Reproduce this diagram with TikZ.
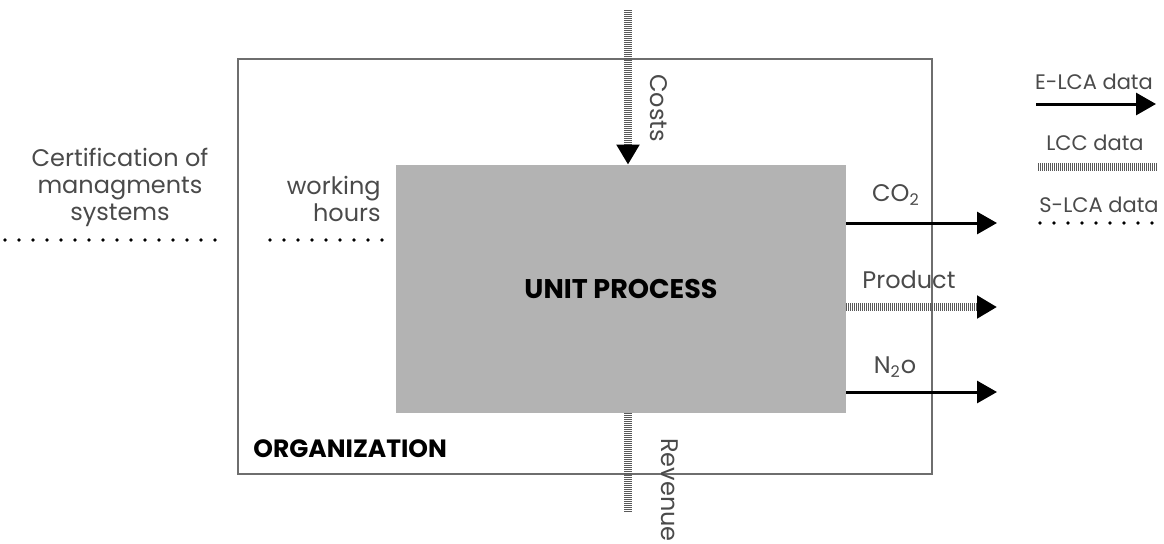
\documentclass[tikz,border=0pt]{standalone}
\usepackage{fontspec}
\setmainfont{Poppins}
\usetikzlibrary{arrows.meta,positioning}
\definecolor{boxgray}{HTML}{B3B3B3}
\definecolor{txtgray}{HTML}{4A4A4A}
\definecolor{framegray}{HTML}{6E6E6E}
\tikzset{
  lbl/.style={text=txtgray, font=\fontsize{12}{13.5}\selectfont, inner sep=0pt},
  leg/.style={lbl, font=\fontsize{10.5}{12}\selectfont},
  bold/.style={text=black, font=\fontsize{12.5}{14}\selectfont\bfseries, inner sep=0pt},
  tip/.style={-{Triangle[length=10pt,width=11pt,color=black]}},
  elca/.style={line width=1.5pt, tip},
  lcc/.style={line width=4pt, black!65, dash pattern=on 0.5pt off 0.5pt},
  slca/.style={line width=1.8pt, line cap=round, dash pattern=on 0pt off 7pt}
}
\begin{document}
\begin{tikzpicture}[x=0.5pt, y=-0.5pt]
 \useasboundingbox (0,0) rectangle (1164,543);
 % organization and unit process
 \node (org) [draw=framegray, line width=1pt, minimum width=347pt, minimum height=207.5pt] at (585,266.5) {};
 \node (unit) [fill=boxgray, minimum width=225pt, minimum height=124pt, bold, font=\fontsize{13.5}{15}\selectfont\bfseries] at (621,289) {UNIT PROCESS};
 \node (orglbl) [bold, anchor=west] at (253,449) {ORGANIZATION};

 % costs and revenue
 \coordinate (costin) at (628,10);
 \coordinate (revout) at (628,512);
 \draw[lcc, tip] (costin) -- (costin |- unit.north);
 \draw[lcc] (revout |- unit.south) -- (revout);
 \node (costs) [lbl, rotate=-90] at (659,108) {Costs};
 \node (rev) [lbl, rotate=-90] at (670,490) {Revenue};

 % social inputs
 \node (cert) [lbl, align=center] at (120,187) {Certification of\\managments\\systems};
 \coordinate (certa) at (5,240);
 \coordinate (certb) at (226,240);
 \draw[slca] (certa) -- (certb);
 \node (work) [lbl, align=right, anchor=east] at (381,199) {working\\hours};
 \coordinate (worka) at (270,240);
 \draw[slca] (worka) -- (worka -| unit.west);

 % outputs
 \coordinate (co2) at (997,223);
 \coordinate (prod) at (997,307);
 \coordinate (n2o) at (997,392);
 \draw[elca] (co2 -| unit.east) -- (co2);
 \draw[lcc, tip] (prod -| unit.east) -- (prod);
 \draw[elca] (n2o -| unit.east) -- (n2o);
 \node (co2lbl) [lbl] at (896,195) {CO\textsubscript{2}};
 \node (prodlbl) [lbl] at (909,280) {Product};
 \node (n2olbl) [lbl] at (895,367) {N\textsubscript{2}o};

 % legend
 \node (elcalbl) [leg] at (1094,82) {E-LCA data};
 \coordinate (elcaa) at (1036,104);
 \coordinate (elcab) at (1156,104);
 \draw[elca] (elcaa) -- (elcab);
 \node (lcclbl) [leg] at (1095,143) {LCC data};
 \coordinate (lcca) at (1038,167);
 \coordinate (lccb) at (1158,167);
 \draw[lcc] (lcca) -- (lccb);
 \node (slcalbl) [leg] at (1099,205) {S-LCA data};
 \coordinate (slcaa) at (1040,223);
 \coordinate (slcab) at (1158,223);
 \draw[slca] (slcaa) -- (slcab);
\end{tikzpicture}
\end{document}
